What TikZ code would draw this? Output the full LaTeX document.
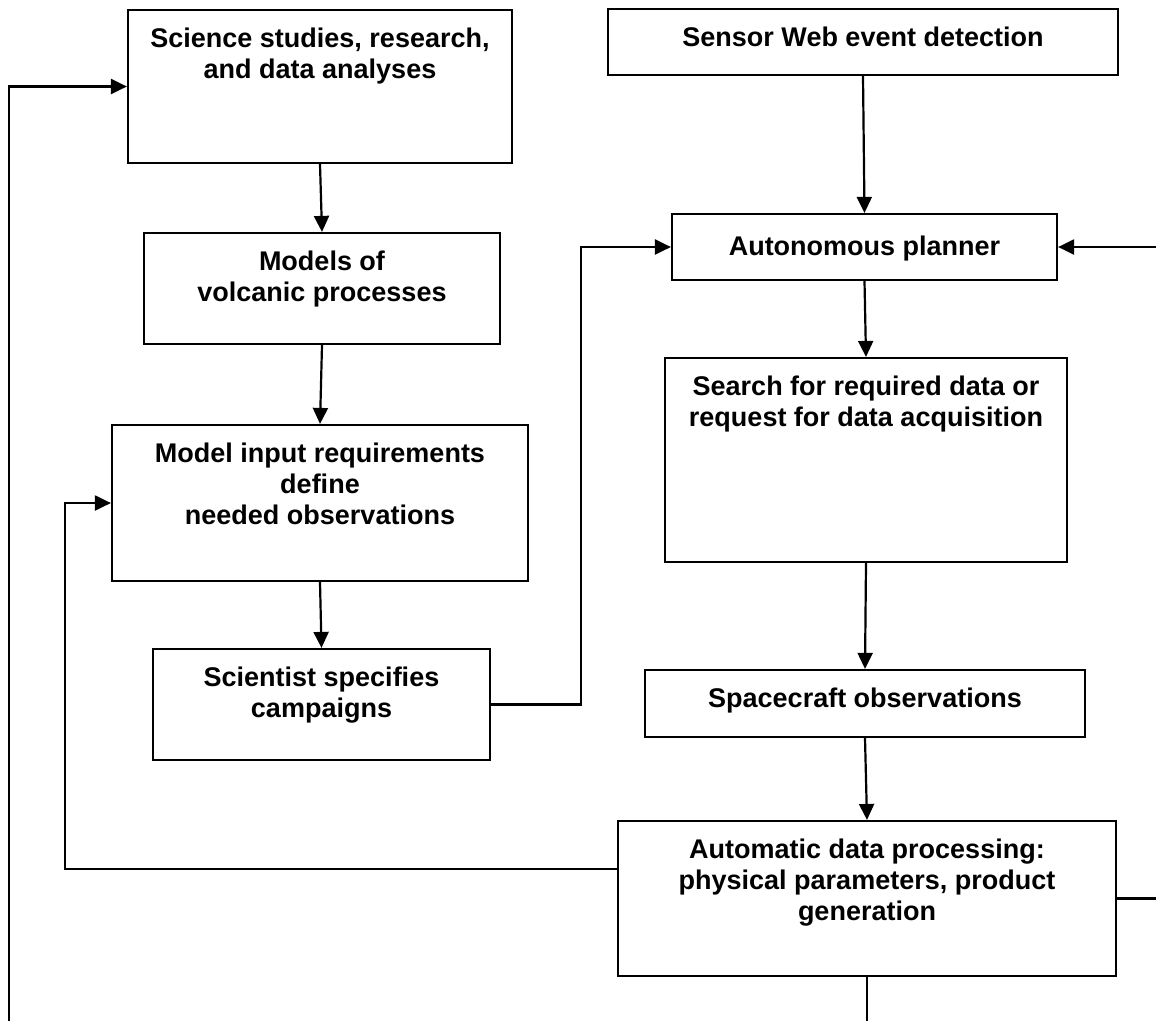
\documentclass[tikz,border=0pt]{standalone}
\usepackage{fontspec}
\setmainfont{Liberation Sans}
\usetikzlibrary{arrows.meta}
\begin{document}
\begin{tikzpicture}[x=1pt,y=1pt,
  box/.style={draw=black, line width=2.2pt, rectangle, inner sep=0pt},
  txt/.style={font=\fontsize{27}{31}\selectfont\bfseries, align=center, inner sep=0pt, anchor=north},
  conn/.style={line width=2.2pt, draw=black},
  arr/.style={conn, -{Triangle[length=16pt,width=15pt]}}]
\useasboundingbox (0,0) rectangle (1156,-1021);
% boxes
\node[box, minimum width=384pt, minimum height=153pt] (sci) at (320,-86.5) {};
\node[box, minimum width=510pt, minimum height=66pt] (sensor) at (863,-42) {};
\node[box, minimum width=356pt, minimum height=111pt] (models) at (322,-288.5) {};
\node[box, minimum width=385pt, minimum height=66pt] (planner) at (864.5,-247) {};
\node[box, minimum width=416pt, minimum height=156pt] (input) at (320,-503) {};
\node[box, minimum width=402pt, minimum height=204pt] (search) at (866,-460) {};
\node[box, minimum width=337pt, minimum height=111pt] (scient) at (321.5,-704.5) {};
\node[box, minimum width=440pt, minimum height=67pt] (space) at (865,-703.5) {};
\node[box, minimum width=498pt, minimum height=155pt] (proc) at (867,-898.5) {};
% texts
\node[txt] (scit) at ([yshift=-18.5pt]sci.north) {Science studies, research,\\and data analyses};
\node[txt] (sensort) at ([yshift=-18.5pt]sensor.north) {Sensor Web event detection};
\node[txt] (modelst) at ([yshift=-18.5pt]models.north) {Models of\\volcanic processes};
\node[txt] (plannert) at ([yshift=-23pt]planner.north) {Autonomous planner};
\node[txt] (inputt) at ([yshift=-18.5pt]input.north) {Model input requirements\\define\\needed observations};
\node[txt] (searcht) at ([yshift=-18.5pt]search.north) {Search for required data or\\request for data acquisition};
\node[txt] (scientt) at ([yshift=-18.5pt]scient.north) {Scientist specifies\\campaigns};
\node[txt] (spacet) at ([yshift=-18.5pt]space.north) {Spacecraft observations};
\node[txt] (proct) at ([yshift=-18.5pt]proc.north) {Automatic data processing:\\physical parameters, product\\generation};
% free ends and turns
\coordinate (rin) at (1156,-247);
\coordinate (rout) at (1156,-898.5);
\coordinate (bot) at (867,-1021);
\coordinate (lbot) at (9,-1021);
\coordinate (lturn) at (65,-869);
\coordinate (mturn) at (581,-704.5);
% connectors
\draw[arr] (sci.south) -- (models.north);
\draw[arr] (models.south) -- (input.north);
\draw[arr] (input.south) -- (scient.north);
\draw[arr] (scient.east) -- (mturn) |- (planner.west);
\draw[arr] (sensor.south) -- (planner.north);
\draw[arr] (rin) -- (planner.east);
\draw[arr] (planner.south) -- (search.north);
\draw[arr] (search.south) -- (space.north);
\draw[arr] (space.south) -- (proc.north);
\draw[conn] (proc.east) -- (rout);
\draw[conn] (proc.south) -- (bot);
\draw[arr] ([yshift=29.5pt]proc.west) -- (lturn) |- (input.west);
\draw[arr] (lbot) |- (sci.west);
\end{tikzpicture}
\end{document}
